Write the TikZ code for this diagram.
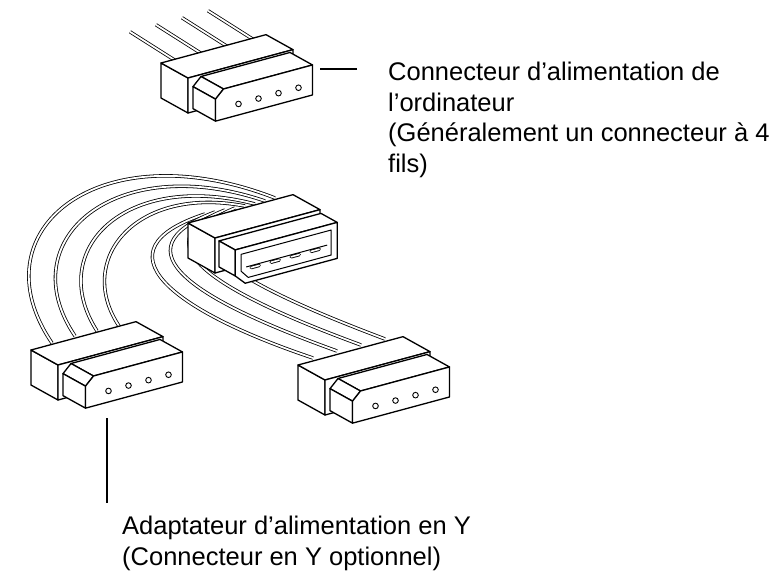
\documentclass[tikz,border=0pt]{standalone}
\usepackage{fontspec}
\setmainfont{Liberation Sans}
\usetikzlibrary{positioning,calc}

\tikzset{
  conn/.style={x={(1pt,0.27pt)}, y={(0pt,1pt)}, z={(-0.9pt,0.5pt)}},
  face/.style={draw, fill=white, line width=1.3pt, line join=round},
  wire/.style={draw=black, line width=0.8pt, double=white, double distance=1.8pt},
  lbl/.style={font=\fontsize{25.5}{30.5}\selectfont, align=left, inner sep=0pt},
  callout/.style={line width=1.3pt}
}

% female plug, origin at front-top-left corner of the body
\newcommand\femconn[1]{%
  \begin{scope}[shift={#1}, conn]
    \path[face] (0,0,0) -- (0,0,30) -- (0,-35,30) -- (0,-35,0) -- cycle;
    \path[face] (0,0,0) -- (0,0,30) -- (105,0,30) -- (105,0,0) -- cycle;
    \path[face] (0,0,0) -- (105,0,0) -- (105,-35,0) -- (0,-35,0) -- cycle;
    \path[face] (13,-2,0) -- (102,-2,0) -- (102,-2,-25) -- (13,-2,-25) -- cycle;
    \path[face] (5,-10,0) -- (13,-2,0) -- (13,-2,-25) -- (5,-10,-25) -- cycle;
    \path[face] (5,-10,0) -- (5,-32,0) -- (5,-32,-25) -- (5,-10,-25) -- cycle;
    \path[face] (5,-10,-25) -- (13,-2,-25) -- (102,-2,-25) -- (102,-32,-25)
      -- (5,-32,-25) -- cycle;
    \foreach \l in {28,48,68,88}
      \draw[line width=0.9pt] (\l,-21,-25) circle[radius=2.8pt];
  \end{scope}}

% male plug with open front and pins
\newcommand\maleconn[1]{%
  \begin{scope}[shift={#1}, conn]
    \path[face] (0,0,0) -- (0,0,30) -- (0,-35,30) -- (0,-35,0) -- cycle;
    \path[face] (0,0,0) -- (0,0,30) -- (105,0,30) -- (105,0,0) -- cycle;
    \path[face] (0,0,0) -- (105,0,0) -- (105,-35,0) -- (0,-35,0) -- cycle;
    \path[face] (4,-4,0) -- (106,-4,0) -- (106,-4,-18) -- (4,-4,-18) -- cycle;
    \path[face] (4,-4,0) -- (4,-30,0) -- (4,-30,-18) -- (4,-4,-18) -- cycle;
    \path[face] (4,-4,-18) -- (106,-4,-18) -- (106,-40,-18) -- (14,-40,-18)
      -- (4,-30,-18) -- cycle;
    \path[face, line width=1pt] (10,-10,-18) -- (100,-10,-18) -- (100,-35,-18)
      -- (17,-35,-18) -- (10,-27,-18) -- cycle;
    \draw[line width=1pt] (15,-24,-18) -- (96,-24,-18);
    \foreach \l in {28,48,68,88}
      \draw[line width=3.4pt, line cap=round] (\l,-26,-18) -- (\l-8,-26,-18);
    \foreach \l in {28,48,68,88}
      \draw[white, line width=1.6pt, line cap=round] (\l,-26,-18) -- (\l-8,-26,-18);
  \end{scope}}

\begin{document}
\begin{tikzpicture}[x=1pt, y=1pt]
\useasboundingbox (0,0) rectangle (773,-579);

% wires of the computer plug
\foreach \l in {12,38,64,90}
  \draw[wire, shift={(188,-78)}, conn] (\l,0,20) -- ++(-52,47,0);
\femconn{(188,-78)}

% Y cable wires, left branch
\draw[wire] (52,-343) .. controls (-25,-230) and (100,-130) .. (275,-198);
\draw[wire] (75,-336) .. controls (10,-240) and (115,-150) .. (265,-201);
\draw[wire] (97,-331) .. controls (45,-250) and (125,-170) .. (255,-204);
\draw[wire] (119,-326) .. controls (75,-260) and (135,-185) .. (245,-206);
% Y cable wires, right branch
\draw[wire] (313,-358) .. controls (170,-310) and (95,-250) .. (205,-214);
\draw[wire] (337,-351) .. controls (195,-300) and (115,-250) .. (215,-212);
\draw[wire] (361,-345) .. controls (225,-295) and (135,-245) .. (225,-210);
\draw[wire] (385,-339) .. controls (255,-290) and (155,-240) .. (235,-208);

\maleconn{(215,-238)}
\femconn{(58,-365)}
\femconn{(325,-380)}

% labels
\node[lbl, anchor=north west] (pclabel) at (388,-62)
  {Connecteur d’alimentation de\\l’ordinateur\\(Généralement un connecteur à 4\\fils)};
\draw[callout] (357,-69) -- (320,-69);
\node[lbl, anchor=north west] (ylabel) at (122,-516)
  {Adaptateur d’alimentation en Y\\(Connecteur en Y optionnel)};
\draw[callout] (107,-418) -- (107,-503);
\end{tikzpicture}
\end{document}
